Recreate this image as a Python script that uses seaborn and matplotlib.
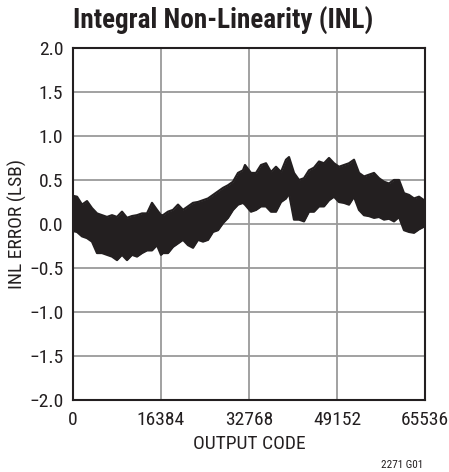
import matplotlib
matplotlib.use("Agg")
import matplotlib.pyplot as plt
from matplotlib import font_manager as fm
import seaborn as sns
import pandas as pd

# ---- data (envelope of the INL noise band) ----
codes = [0, 745, 1676, 2607, 3538, 4469, 5399, 6330, 7261, 8192, 9123, 10054,
         10985, 11916, 12847, 13777, 14708, 15639, 16384, 16756, 17687, 18618,
         19549, 20480, 21411, 22342, 23273, 24204, 25135, 26065, 26996, 27927,
         28858, 29789, 30720, 31651, 32023, 33140, 34071, 35002, 35933, 36864,
         37795, 38726, 39657, 40215, 41146, 42077, 43008, 43939, 44870, 45801,
         46732, 47663, 48593, 49524, 50455, 51386, 52317, 53248, 54179, 55110,
         56041, 56972, 57903, 58834, 59765, 60695, 61626, 62557, 63488, 64419,
         65350]
inl_upper = [0.32, 0.31, 0.22, 0.26, 0.18, 0.12, 0.10, 0.08, 0.10, 0.08, 0.14, 0.07,
             0.09, 0.10, 0.12, 0.12, 0.24, 0.16, 0.10, 0.10, 0.14, 0.16,
             0.22, 0.16, 0.20, 0.24, 0.25, 0.27, 0.29, 0.33, 0.37, 0.41,
             0.44, 0.48, 0.58, 0.61, 0.67, 0.58, 0.58, 0.67, 0.69, 0.59,
             0.65, 0.59, 0.73, 0.76, 0.58, 0.50, 0.52, 0.61, 0.64, 0.71,
             0.69, 0.75, 0.69, 0.65, 0.67, 0.69, 0.73, 0.58, 0.54, 0.56,
             0.58, 0.52, 0.48, 0.46, 0.50, 0.50, 0.35, 0.33, 0.29, 0.31,
             0.27]
inl_lower = [-0.08, -0.09, -0.14, -0.16, -0.20, -0.33, -0.33, -0.35, -0.37, -0.41, -0.35, -0.41,
             -0.35, -0.37, -0.33, -0.30, -0.30, -0.24, -0.35, -0.33, -0.33, -0.26,
             -0.22, -0.18, -0.24, -0.27, -0.18, -0.20, -0.18, -0.09, -0.07, 0.01,
             0.07, 0.16, 0.22, 0.24, 0.22, 0.14, 0.16, 0.20, 0.20, 0.14,
             0.14, 0.25, 0.29, 0.35, 0.05, 0.05, 0.03, 0.14, 0.14, 0.20,
             0.20, 0.27, 0.31, 0.25, 0.24, 0.22, 0.31, 0.16, 0.10, 0.09,
             0.07, 0.08, 0.05, 0.06, 0.03, 0.08, -0.07, -0.09, -0.10, -0.06,
             -0.03]

x_ticks = [0, 16384, 32768, 49152, 65536]
y_ticks = [-2.0, -1.5, -1.0, -0.5, 0.0, 0.5, 1.0, 1.5, 2.0]
y_tick_labels = ["\u22122.0", "\u22121.5", "\u22121.0", "\u22120.5", "0.0", "0.5", "1.0", "1.5", "2.0"]

title = "Integral Non-Linearity (INL)"
x_label = "OUTPUT CODE"
y_label = "INL ERROR (LSB)"
footnote = "2271 G01"

df = pd.DataFrame({"code": codes, "upper": inl_upper, "lower": inl_lower})

sns.set_theme(style="white")
plt.rcParams["font.family"] = ["Liberation Sans", "DejaVu Sans"]


# ---- look for an installed condensed sans font ----
def _is_bold(w):
    try:
        return int(w) >= 700
    except (TypeError, ValueError):
        return str(w).lower() in ("bold", "heavy", "black", "extra bold", "ultrabold")


def _is_regular(w):
    try:
        return 350 <= int(w) <= 500
    except (TypeError, ValueError):
        return str(w).lower() in ("normal", "regular", "book", "medium")


prefs = ["liberation sans narrow", "roboto condensed", "dejavu sans condensed",
         "open sans condensed", "noto sans condensed", "arial narrow"]
cands = []
for f in fm.fontManager.ttflist:
    nm = f.name.lower()
    st = str(f.stretch).lower()
    if "narrow" in nm or "condensed" in nm or "condensed" in st:
        if f.style != "normal":
            continue
        fam = nm if ("narrow" in nm or "condensed" in nm) else nm + " condensed"
        rank = prefs.index(fam) if fam in prefs else len(prefs)
        cands.append((rank, f))
cands.sort(key=lambda t: t[0])
reg_path = next((f.fname for r, f in cands if _is_regular(f.weight)), None)
bold_path = next((f.fname for r, f in cands if _is_bold(f.weight)), None)

if reg_path:
    fp_reg = fm.FontProperties(fname=reg_path)
    tick_size, lab_size = 14, 14
else:
    fp_reg = fm.FontProperties(family=["Liberation Sans", "DejaVu Sans"])
    tick_size, lab_size = 12.5, 12.5
if bold_path:
    fp_bold = fm.FontProperties(fname=bold_path)
    title_size = 19.5
elif reg_path:
    fp_bold = fm.FontProperties(fname=reg_path, weight="bold")
    title_size = 19.5
else:
    fp_bold = fm.FontProperties(family=["Liberation Sans", "DejaVu Sans"], weight="bold")
    title_size = 16.5


def fp(base, size):
    p = base.copy()
    p.set_size(size)
    return p


fig = plt.figure(figsize=(4.49, 4.72), dpi=100)
ax = fig.add_axes([73 / 449, 1 - 400 / 472, 352 / 449, 352 / 472])

band = "#231f20"
ax.fill_between(df["code"], df["lower"], df["upper"], color=band, linewidth=0, zorder=3)
sns.lineplot(data=df, x="code", y="upper", ax=ax, color=band, linewidth=1.6, zorder=3)
sns.lineplot(data=df, x="code", y="lower", ax=ax, color=band, linewidth=1.6, zorder=3)

ax.set_xlim(0, 65536)
ax.set_ylim(-2.0, 2.0)
ax.set_xticks(x_ticks)
ax.set_xticklabels([str(t) for t in x_ticks])
ax.set_yticks(y_ticks)
ax.set_yticklabels(y_tick_labels)
ax.tick_params(axis="both", length=0, colors="#231f20")
ax.tick_params(axis="x", pad=8)
ax.tick_params(axis="y", pad=7)
for lab in ax.get_xticklabels() + ax.get_yticklabels():
    lab.set_fontproperties(fp(fp_reg, tick_size))
ax.grid(True, color="#9a9a9a", linewidth=1.3)
ax.set_axisbelow(True)
for s in ax.spines.values():
    s.set_color("#231f20")
    s.set_linewidth(1.5)
    s.set_zorder(5)

ax.set_xlabel(x_label, fontproperties=fp(fp_reg, lab_size), color="#231f20", labelpad=4)
ax.set_ylabel(y_label, fontproperties=fp(fp_reg, lab_size), color="#231f20")
ax.yaxis.set_label_coords((27 - 73) / 352, 0.5)

fig.text(73 / 449, 1 - 29 / 472, title, fontproperties=fp(fp_bold, title_size),
         color="#231f20", ha="left", va="baseline")
fig.text(423 / 449, 1 - 465 / 472, footnote, fontproperties=fp(fp_reg, 8),
         color="#231f20", ha="right", va="center")

fig.savefig("out.png", dpi=100)
